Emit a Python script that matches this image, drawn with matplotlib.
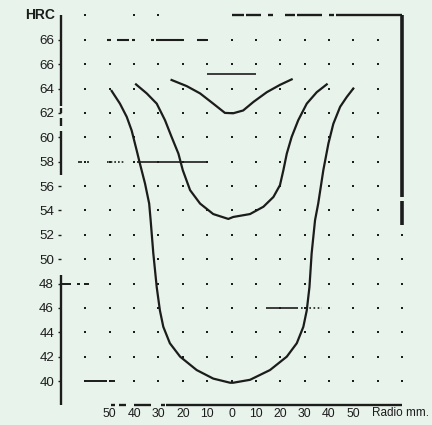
import matplotlib.pyplot as plt
import numpy as np

plt.rcParams['font.family'] = ['Liberation Sans', 'DejaVu Sans']

BG = '#e8f3eb'
INK = '#1c1c1c'

# hardness profiles across the bar section (radius mm, HRC)
outer_x = [-49.2, -45.8, -43.0, -41.0, -38.9, -37.6, -35.5, -33.8, -33.2, -32.1, -30.7,
           -29.4, -28.0, -25.3, -21.1, -14.3, -7.5, -0.6, 0.7, 7.6, 15.8, 22.7, 26.8,
           29.5, 30.9, 32.0, 32.9, 34.3, 35.6, 37.7, 39.8, 41.8, 44.6, 47.3, 50.0]
outer_y = [63.8, 62.76, 61.67, 60.56, 58.9, 57.84, 56.2, 54.56, 53.2, 50.47, 47.7,
           45.8, 44.45, 43.1, 42.0, 40.9, 40.2, 39.86, 39.86, 40.1, 40.9, 42.0, 43.1,
           44.45, 45.8, 47.7, 50.47, 53.2, 54.56, 57.3, 59.5, 61.1, 62.5, 63.3, 64.0]

middle_x = [-39.2, -34.8, -30.7, -27.3, -24.6, -21.8, -20.0, -17.0, -12.9, -7.5, -1.3,
            0.7, 7.6, 13.1, 17.2, 19.9, 21.3, 22.7, 24.7, 27.4, 30.9, 35.0, 39.1]
middle_y = [64.34, 63.6, 62.76, 61.4, 60.03, 58.66, 57.3, 55.66, 54.56, 53.7, 53.3,
            53.46, 53.7, 54.3, 55.1, 56.07, 57.3, 58.66, 60.03, 61.4, 62.76, 63.7, 64.34]

inner_x = [-24.6, -18.4, -12.9, -7.5, -2.7, 0.7, 4.8, 9.0, 14.5, 19.9, 24.7]
inner_y = [64.7, 64.2, 63.6, 62.76, 62.0, 61.97, 62.2, 62.9, 63.7, 64.3, 64.75]

x_ticks = [-50, -40, -30, -20, -10, 0, 10, 20, 30, 40, 50]
x_labels = ['50', '40', '30', '20', '10', '0', '10', '20', '30', '40', '50']
y_ticks = [40, 42, 44, 46, 48, 50, 52, 54, 56, 58, 60, 62, 64, 66, 68]
y_labels = ['40', '42', '44', '46', '48', '50', '52', '54', '56', '58', '60', '62', '64', '66', '66']

grid_x = np.arange(-60, 61, 10)
grid_y = np.arange(40, 69, 2)
top_dots_x = [-60, -40, -30]

fig = plt.figure(figsize=(4.32, 4.25), dpi=100, facecolor=BG)
ax = fig.add_axes([61 / 432, 19.6 / 425, 341 / 432, 390 / 425])
ax.set_facecolor(BG)
ax.set_xlim(-70, 70)
ax.set_ylim(38, 70)
for s in ax.spines.values():
    s.set_visible(False)

# dotted grid
gx, gy = np.meshgrid(grid_x, grid_y)
ax.plot(gx.ravel(), gy.ravel(), ls='none', marker='s', ms=1.6, mew=0, color=INK, clip_on=False)
ax.plot(top_dots_x, [70] * len(top_dots_x), ls='none', marker='s', ms=1.6, mew=0,
        color=INK, clip_on=False)
ax.plot([70] * 7, [40, 42, 44, 46, 48, 50, 52], ls='none', marker='s', ms=2, mew=0,
        color=INK, clip_on=False)

def segs(y, pairs, lw=1.2, vertical=False, **kw):
    for a, b in pairs:
        if vertical:
            ax.plot([y, y], [a, b], color=INK, lw=lw, solid_capstyle='butt', clip_on=False, **kw)
        else:
            ax.plot([a, b], [y, y], color=INK, lw=lw, solid_capstyle='butt', clip_on=False, **kw)

# frame pieces
segs(-70, [(70, 62.6), (62.4, 62.0), (61.6, 60.9), (60.5, 56.9), (48.7, 38)], lw=1.7, vertical=True)
segs(70, [(70, 55.1), (54.8, 52.8)], lw=2.6, vertical=True)
segs(70, [(0, 5), (6, 12), (15, 17), (22, 26), (27, 37), (40, 42), (43, 70)], lw=1.7)
segs(38, [(-49.5, -48), (-46, -43.5), (-40, -33), (-29, -27.5), (-27, 70)], lw=1.7)

# stray reference marks
segs(68, [(-51, -49.5), (-47, -42), (-41, -39.5), (-33, -32), (-31, -20), (-14, -10.5)], lw=1.5)
segs(65.2, [(-10, 10)], lw=1.2)
segs(58, [(-39, -10), (-63, -61.5), (-59.5, -58.5)], lw=1.2)
segs(58, [(-51, -44)], lw=1.2, ls=(0, (1, 1.2)))
segs(46, [(14, 27.3)], lw=1.2)
segs(46, [(28.5, 37)], lw=1.2, ls=(0, (1, 1.5)))
segs(48, [(-69.5, -66), (-63.5, -62), (-60.5, -58.5)], lw=1.4)
segs(40, [(-60, -51), (-50, -48)], lw=1.4)

# hardness curves
for xs, ys in [(outer_x, outer_y), (middle_x, middle_y), (inner_x, inner_y)]:
    ax.plot(xs, ys, color=INK, lw=1.6, solid_joinstyle='round')

ax.set_xticks(x_ticks)
ax.set_xticklabels(x_labels, fontsize=8.8, color=INK)
ax.set_yticks(y_ticks)
ax.set_yticklabels(y_labels, fontsize=9.6, color=INK)
ax.tick_params(axis='x', length=0, pad=2)
ax.tick_params(axis='y', length=2, width=1, color=INK, pad=3)

ax.text(-72.5, 70, 'HRC', ha='right', va='center', fontsize=10, fontweight='bold', color=INK)
ax.text(81, 37.35, 'Radio mm.', ha='right', va='center', fontsize=8.5, color=INK, clip_on=False)

fig.savefig('out.png', dpi=100, facecolor=BG)
